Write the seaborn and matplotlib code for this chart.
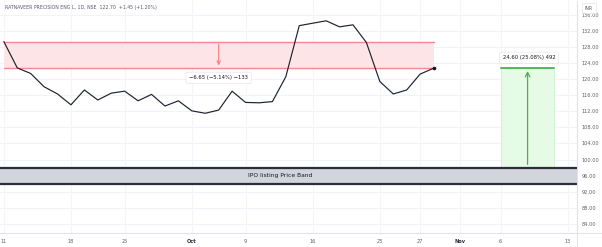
import matplotlib
matplotlib.use("Agg")
import matplotlib.pyplot as plt
import seaborn as sns
import numpy as np
import pandas as pd
from matplotlib.lines import Line2D
from matplotlib.patches import Rectangle

# ---- data ----
day_index = list(range(33))
close = [129.35, 122.8, 121.4, 118.1, 116.3, 113.6, 117.3, 114.8, 116.5, 117.0,
         114.6, 116.2, 113.3, 114.6, 112.1, 111.5, 112.3, 117.0, 114.2, 114.1,
         114.4, 120.6, 133.3, 133.9, 134.5, 133.0, 133.5, 129.1, 119.4, 116.3,
         117.3, 121.25, 122.70]
x_tick_pos = [0, 5, 9, 14, 18, 23, 28, 31, 34, 37, 42]
x_tick_labels = ["11", "18", "25", "Oct", "9", "16", "23", "27", "Nov", "6", "13"]
y_ticks = list(range(84, 140, 4))

red_range = [0, 32]          # day index span
red_prices = [122.70, 129.35]
red_arrow_day = 16
red_label = "\u22126.65 (\u22125.14%) \u2212133"

green_range = [37, 41]
green_prices = [98.10, 122.70]
green_arrow_day = 39
green_label = "24.60 (25.08%) 492"

ipo_band = [94.0, 98.0]
ipo_label = "IPO listing Price Band"
title = "RATNAVEER PRECISION ENG L, 1D, NSE  122.70  +1.45 (+1.20%)"

df = pd.DataFrame({"day": day_index, "close": close})

sns.set_theme(style="white")
plt.rcParams['font.family'] = ['DejaVu Sans']

W, H = 602, 247
fig = plt.figure(figsize=(W / 100, H / 100), dpi=100)
ax = fig.add_axes([0, 14 / H, 577 / W, 233 / H])

ppu = 4.02
ytop = 100 + 159.5 / ppu
ybot = 100 - (233 - 159.5) / ppu
ax.set_ylim(ybot, ytop)
xppu = 13.43
ax.set_xlim(-3.8 / xppu, (577 - 3.8) / xppu)

# grid
for t in y_ticks:
    ax.axhline(t, color="#f0f3fa", lw=0.8, zorder=0)
for t in x_tick_pos:
    ax.axvline(t, color="#f3f5fa", lw=0.8, zorder=0)

# IPO band
ax.axhspan(ipo_band[0], ipo_band[1], color="#d1d4dc", zorder=1, lw=0)
ax.axhline(ipo_band[1], color="#2a2e39", lw=1.6, zorder=2)
ax.axhline(ipo_band[0], color="#2a2e39", lw=1.6, zorder=2)
ax.text(np.mean(ax.get_xlim()) - 0.6, np.mean(ipo_band), ipo_label, ha="center", va="center",
        fontsize=4.3, color="#131722", zorder=3)

# red range box
ax.add_patch(Rectangle((red_range[0], red_prices[0]), red_range[1] - red_range[0],
                       red_prices[1] - red_prices[0], facecolor="#fde4e6", edgecolor="none", zorder=1))
ax.plot(red_range, [red_prices[1]] * 2, color="#f7868d", lw=1.0, zorder=2)
ax.plot(red_range, [red_prices[0]] * 2, color="#f7868d", lw=1.0, zorder=2)
ax.annotate("", xy=(red_arrow_day, red_prices[0]), xytext=(red_arrow_day, red_prices[1]),
            arrowprops=dict(arrowstyle="->", color="#f77c80", lw=0.8, mutation_scale=6), zorder=3)
ax.text(red_arrow_day, red_prices[0] - 2.4, red_label, ha="center", va="center", fontsize=3.8,
        color="#131722", zorder=5,
        bbox=dict(boxstyle="round,pad=0.6,rounding_size=0.3", fc="white", ec="#e6e6e6", lw=0.5))

# green range box
ax.add_patch(Rectangle((green_range[0], green_prices[0]), green_range[1] - green_range[0],
                       green_prices[1] - green_prices[0], facecolor="#e5fbe5", edgecolor="#c8f0c8",
                       lw=0.5, zorder=1))
ax.plot(green_range, [green_prices[1]] * 2, color="#4caf50", lw=1.3, zorder=2)
ax.annotate("", xy=(green_arrow_day, green_prices[1]), xytext=(green_arrow_day, green_prices[0]),
            arrowprops=dict(arrowstyle="->", color="#4caf50", lw=0.9, mutation_scale=8), zorder=3)
ax.text(green_arrow_day + 0.1, green_prices[1] + 2.6, green_label, ha="center", va="center", fontsize=3.8,
        color="#131722", zorder=5,
        bbox=dict(boxstyle="round,pad=0.6,rounding_size=0.3", fc="white", ec="#e6e6e6", lw=0.5))

# price line
sns.lineplot(data=df, x="day", y="close", ax=ax, color="#1e222d", lw=0.85, zorder=4)
ax.plot(day_index[-1], close[-1], marker="o", ms=1.6, color="#131722", zorder=4)

# axes styling
ax.set_xlabel("")
ax.set_ylabel("")
ax.yaxis.tick_right()
ax.set_yticks(y_ticks)
ax.set_yticklabels([f"{t:.2f}" for t in y_ticks], fontsize=3.6, color="#5d606b")
ax.set_xticks(x_tick_pos)
ax.set_xticklabels(x_tick_labels, fontsize=3.6, color="#5d606b")
ax.tick_params(axis="both", length=0, pad=3.5)
ax.tick_params(axis="x", pad=4.5)
for lbl in ax.get_xticklabels():
    if lbl.get_text() in ("Oct", "Nov"):
        lbl.set_fontweight("bold")
        lbl.set_color("#2a2e39")
for s in ax.spines.values():
    s.set_visible(False)

# panel separators
fig.add_artist(Line2D([0, 1], [14 / H, 14 / H], color="#e0e3eb", lw=0.8))
fig.add_artist(Line2D([577 / W, 577 / W], [0, 1], color="#e0e3eb", lw=0.8))

# title and currency
fig.text(5 / W, 1 - 7 / H, title, fontsize=3.3, color="#555a66", va="center", ha="left")
fig.text(589 / W, 1 - 8 / H, "INR", fontsize=3.3, color="#555a66", va="center", ha="center",
         bbox=dict(boxstyle="square,pad=0.6", fc="white", ec="#e6e6e6", lw=0.5), zorder=10)

fig.savefig("out.png", dpi=100)
